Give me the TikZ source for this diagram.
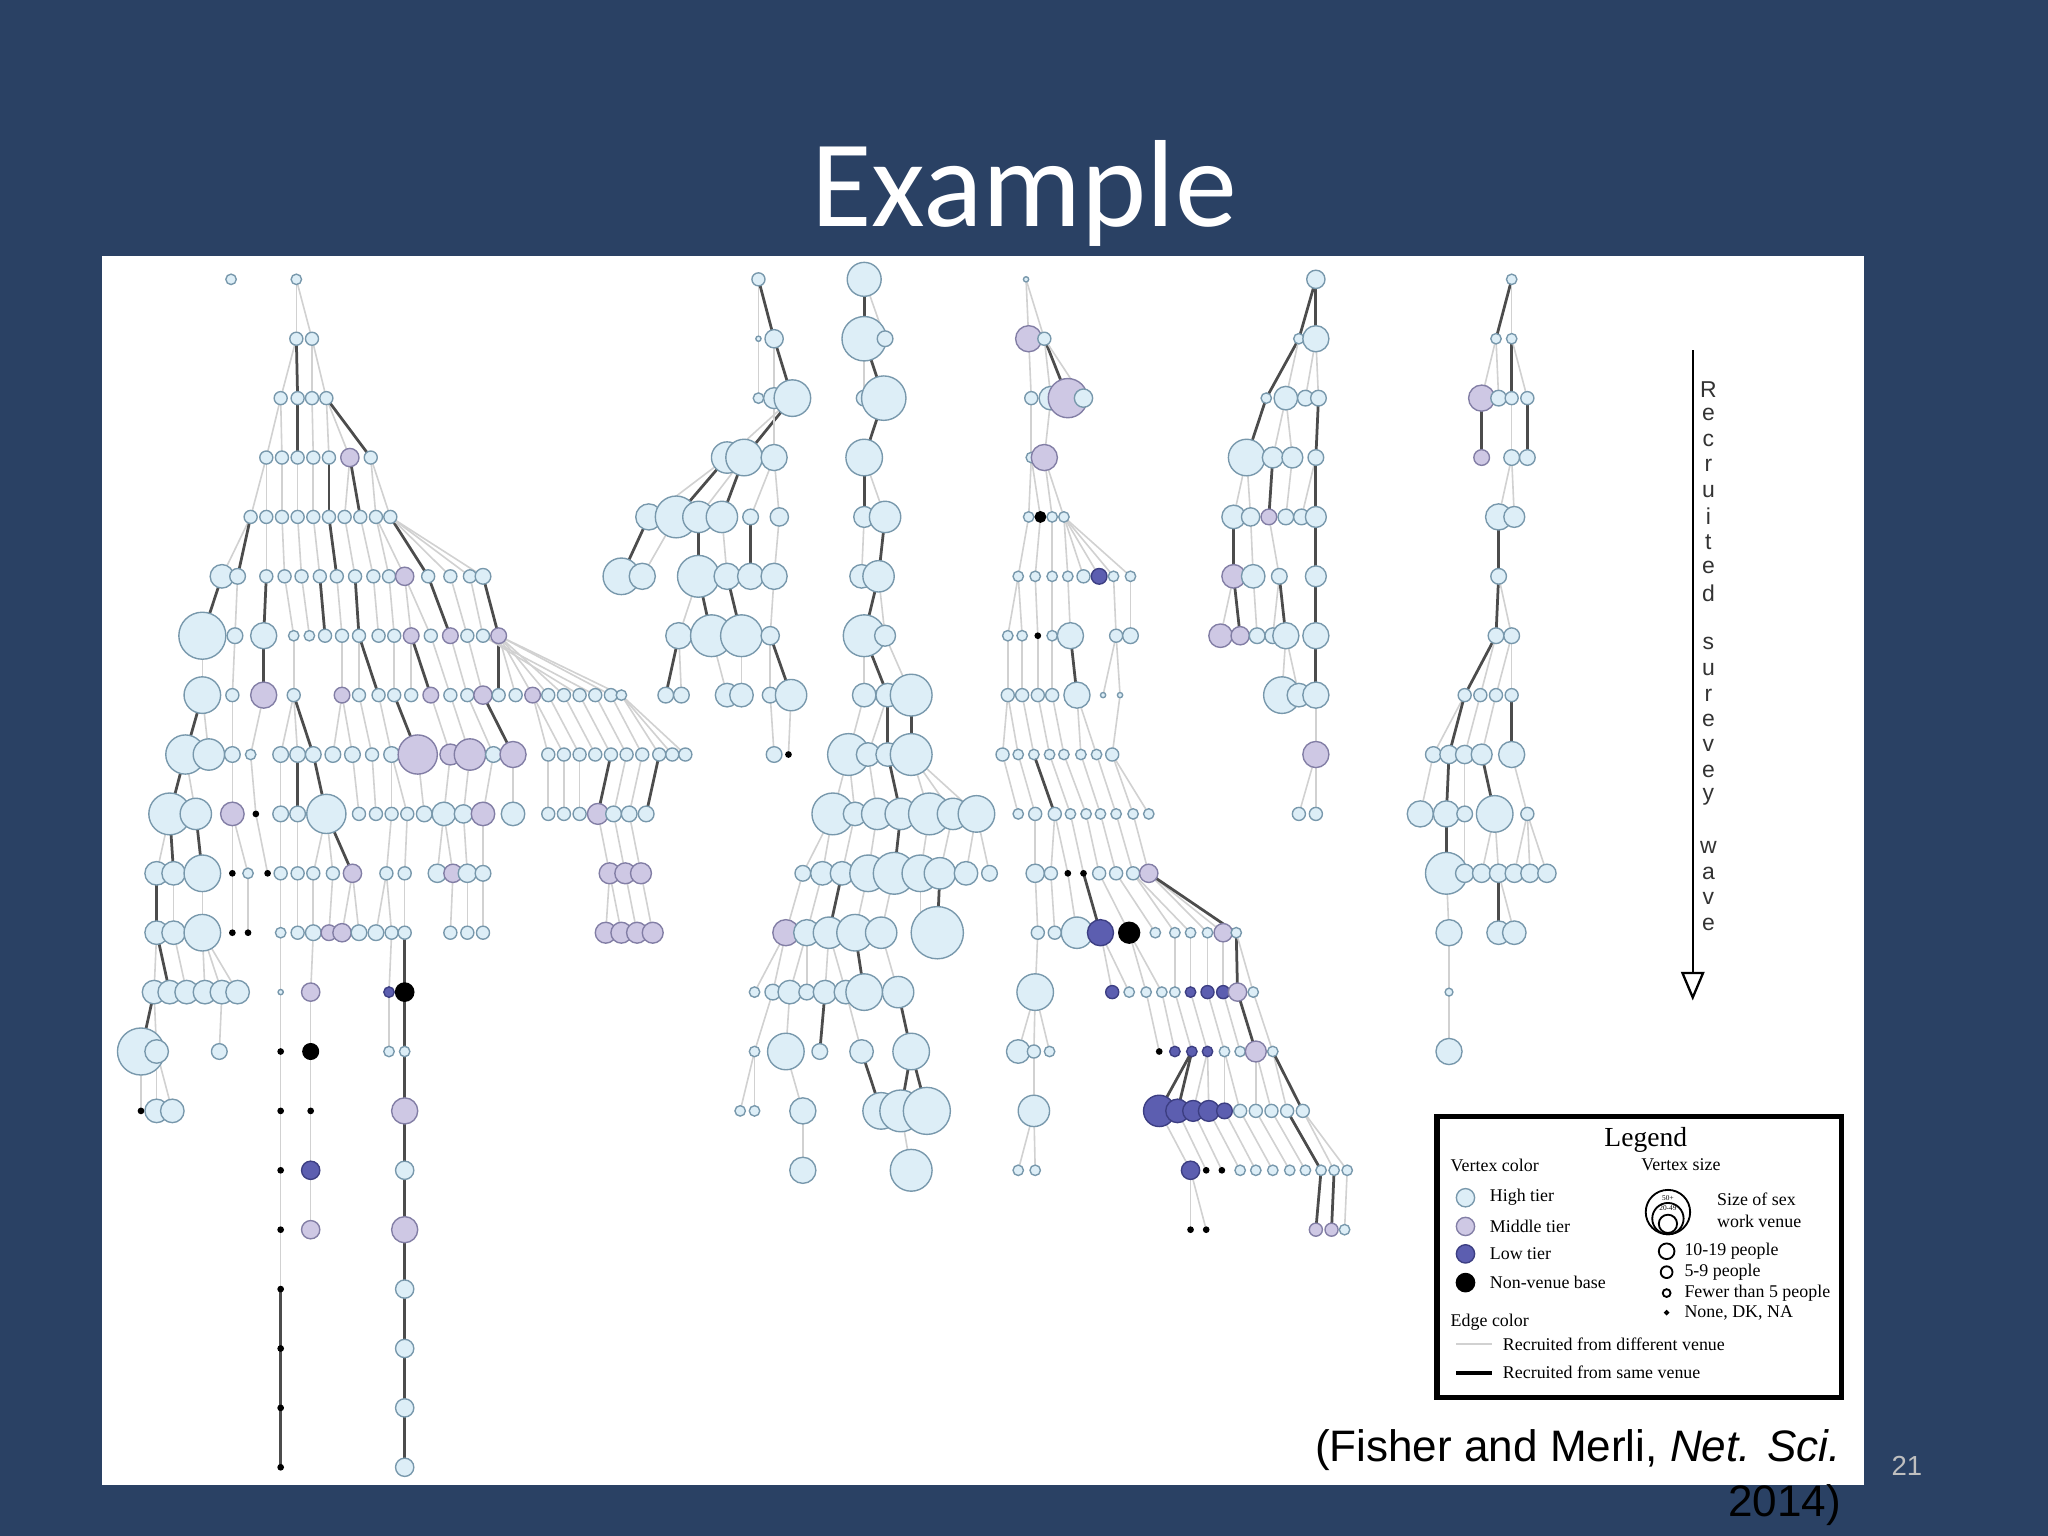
\documentclass[tikz,border=0pt]{standalone}
\usepackage{fontspec}
\setmainfont{Liberation Serif}
\newfontfamily\titlefont{Carlito}
\newfontfamily\arialf{Liberation Sans}
\usetikzlibrary{arrows.meta}
\definecolor{slide}{RGB}{42,65,100}
\definecolor{hi}{RGB}{221,238,247}
\definecolor{hid}{RGB}{120,152,172}
\definecolor{mi}{RGB}{206,200,228}
\definecolor{mid}{RGB}{130,126,165}
\definecolor{lo}{RGB}{92,94,176}
\definecolor{lod}{RGB}{60,62,130}
\tikzset{
 vx/.style={circle,inner sep=0pt,line width=0.3pt},
 vh/.style={vx,fill=hi,draw=hid},
 vm/.style={vx,fill=mi,draw=mid},
 vl/.style={vx,fill=lo,draw=lod},
 vk/.style={vx,fill=black,draw=black},
 e1/.style={draw=black!18,line width=0.35pt},
 e2/.style={draw=black!70,line width=0.6pt},
 leg/.style={font=\fontsize{3.9}{4.5}\selectfont,anchor=west,inner sep=0pt}
}
\def\wpass{1}
\newcommand\wave[4]{\pgfmathsetmacro\yy{-(214+45.5*#2)*0.01}%
\foreach \x/\r/\c/\p/\e in {#4}{%
 \ifnum\wpass=1
  \coordinate (#1#2-\x) at (\x*0.01,\yy);
  \ifnum\e>0 \draw[e\e] (#1#3-\p) -- (#1#2-\x);\fi
 \else
  \node[v\c,minimum size=\r*0.02cm] (#1#2-\x) at (\x*0.01,\yy) {};
 \fi}}
\newcommand\allwaves{%
% ---- component A
\wave{A}{0}{0}{177/4/h/0/0, 227/4/h/0/0}
\wave{A}{1}{0}{227/5/h/227/1, 239/5/h/227/1}
\wave{A}{2}{1}{215/5/h/227/1, 228/5/h/227/2, 239/5/h/239/1, 250/5/h/239/1}
\wave{A}{3}{2}{204/5/h/215/1, 216/5/h/215/1, 228/5/h/228/2, 240/5/h/239/1, 252/5/h/250/1, 268/7/m/250/1, 284/5/h/250/2}
\wave{A}{4}{3}{192/5/h/204/1, 204/5/h/204/1, 216/5/h/216/1, 228/5/h/228/1, 240/5/h/240/1, 252/5/h/252/2, 264/5/h/268/1, 276/5/h/268/2, 288/5/h/284/1, 299/5/h/284/1}
\wave{A}{5}{4}{170/9/h/192/1, 182/6/h/192/2, 204/5/h/204/1, 218/5/h/216/1, 231/5/h/228/1, 245/5/h/240/1, 258/5/h/252/2, 272/5/h/264/1, 286/5/h/276/1, 298/5/h/288/1, 310/7/m/288/1, 328/5/h/299/2, 345/5/h/299/1, 360/5/h/299/1, 370/6/h/299/1}
\wave{A}{6}{5}{155/18/h/170/2, 180/6/h/182/1, 202/10/h/204/2, 225/4/h/218/1, 237/4/h/231/1, 249/5/h/245/2, 262/5/h/258/1, 275/5/h/272/2, 290/5/h/286/1, 302/5/h/298/1, 315/6/m/310/1, 330/5/h/310/1, 345/6/m/328/2, 358/5/h/345/1, 370/5/h/360/1, 382/6/m/370/2}
\wave{A}{7}{6}{155/14/h/155/1, 178/5/h/180/1, 202/10/m/202/2, 225/5/h/225/1, 262/6/m/262/1, 275/5/h/275/1, 290/5/h/275/2, 302/5/h/302/1, 315/5/h/315/1, 330/6/m/315/2, 345/5/h/330/1, 358/5/h/345/1, 370/7/m/358/1, 382/5/h/382/2, 395/5/h/382/1, 408/6/m/382/1, 420/5/h/382/1, 432/5/h/382/1, 444/5/h/370/1, 456/5/h/370/1, 468/5/h/382/1, 476/4/h/382/1}
\wave{A}{8}{7}{142/15/h/155/2, 160/12/h/155/1, 178/6/h/178/1, 192/4/h/202/1, 215/6/h/225/1, 228/6/h/225/1, 240/6/h/225/2, 255/6/h/262/1, 270/6/h/262/1, 285/5/h/275/1, 300/6/h/290/1, 320/15/m/302/2, 345/8/m/330/1, 360/12/m/345/1, 378/6/h/358/1, 393/10/m/370/2, 420/5/h/408/1, 432/5/h/408/1, 444/5/h/420/1, 456/5/h/432/1, 468/5/h/444/1, 480/5/h/456/1, 492/5/h/468/1, 505/5/h/476/1, 515/5/h/476/1, 525/5/h/476/1}
\wave{A}{9}{8}{130/16/h/142/2, 150/12/h/142/1, 178/9/m/178/1, 196/2/k/192/1, 215/6/h/215/1, 228/6/h/228/2, 250/15/h/240/2, 275/5/h/270/1, 288/5/h/285/1, 300/5/h/300/1, 312/5/h/300/1, 325/6/h/320/1, 340/9/h/345/1, 355/7/h/360/1, 370/9/m/378/1, 393/9/h/393/1, 420/5/h/420/1, 432/5/h/432/1, 444/5/h/444/1, 458/8/m/468/2, 470/6/h/480/1, 482/6/h/492/1, 495/6/h/505/2}
\wave{A}{10}{9}{120/9/h/130/1, 133/9/h/130/2, 155/14/h/150/2, 178/2/k/178/1, 190/4/h/178/1, 205/2/k/196/1, 215/5/h/215/1, 228/5/h/228/1, 240/5/h/250/1, 255/5/h/250/1, 270/7/m/250/2, 296/5/h/300/1, 310/5/h/312/1, 335/7/h/340/1, 347/7/m/340/1, 358/7/h/355/1, 370/6/h/370/1, 467/8/m/458/1, 479/8/m/470/1, 491/8/m/482/1}
\wave{A}{11}{10}{120/9/h/120/2, 133/9/h/133/1, 155/14/h/155/1, 178/2/k/178/1, 190/2/k/190/1, 215/4/h/215/1, 228/5/h/228/1, 240/6/h/240/1, 252/6/m/255/1, 262/7/m/270/1, 275/6/h/270/1, 288/6/h/296/1, 300/5/h/296/1, 310/5/h/310/1, 345/5/h/347/1, 358/5/h/358/1, 370/5/h/370/1, 464/8/m/467/1, 476/8/m/467/1, 488/8/m/479/1, 500/8/m/491/1}
\wave{A}{12}{11}{118/9/h/120/1, 130/9/h/120/2, 143/9/h/133/1, 157/9/h/155/1, 170/9/h/155/1, 182/9/h/155/1, 215/2/h/215/1, 238/7/m/240/1, 298/4/l/300/1, 310/7/k/310/2}
\wave{A}{13}{12}{108/18/h/118/2, 120/9/h/118/1, 168/6/h/170/1, 215/2/k/215/1, 238/6/k/238/1, 298/4/h/298/1, 310/4/h/310/2}
\wave{A}{14}{13}{108/2/k/108/1, 120/9/h/120/1, 132/9/h/120/1, 215/2/k/215/1, 238/2/k/238/1, 310/10/m/310/2}
\wave{A}{15}{14}{215/2/k/215/1, 238/7/l/238/1, 310/7/h/310/2}
\wave{A}{16}{15}{215/2/k/215/1, 238/7/m/238/1, 310/10/m/310/2}
\wave{A}{17}{16}{215/2/k/215/1, 310/7/h/310/2}
\wave{A}{18}{17}{215/2/k/215/2, 310/7/h/310/2}
\wave{A}{19}{18}{215/2/k/215/2, 310/7/h/310/2}
\wave{A}{20}{19}{215/2/k/215/2, 310/7/h/310/2}
% ---- component B
\wave{B}{0}{0}{581/5/h/0/0}
\wave{B}{1}{0}{581/2/h/581/1, 593/7/h/581/2}
\wave{B}{2}{1}{581/4/h/581/1, 593/8/h/593/1, 607/14/h/593/2}
\wave{B}{3}{2}{557/12/h/607/1, 570/14/h/607/2, 593/10/h/593/1}
\wave{B}{4}{3}{497/10/h/557/1, 518/16/h/557/2, 535/12/h/570/1, 553/12/h/570/2, 575/6/h/593/1, 597/7/h/593/1}
\wave{B}{5}{4}{476/14/h/497/2, 492/10/h/518/1, 535/16/h/535/2, 557/10/h/553/1, 575/10/h/575/2, 593/10/h/597/1}
\wave{B}{6}{5}{520/10/h/535/1, 545/16/h/535/2, 568/16/h/557/2, 590/7/h/593/1}
\wave{B}{7}{6}{510/6/h/520/2, 522/6/h/520/1, 557/9/h/545/1, 568/9/h/568/1, 590/6/h/590/1, 606/12/h/590/2}
\wave{B}{8}{7}{593/6/h/590/1, 604/2/k/606/1}
% ---- component C
\wave{C}{0}{0}{662/13/h/0/0}
\wave{C}{1}{0}{662/17/h/662/2, 678/6/h/662/1}
\wave{C}{2}{1}{662/6/h/662/1, 677/17/h/662/2}
\wave{C}{3}{2}{662/14/h/677/2}
\wave{C}{4}{3}{662/8/h/662/2, 678/12/h/662/1}
\wave{C}{5}{4}{660/9/h/662/1, 673/12/h/678/2}
\wave{C}{6}{5}{662/16/h/673/2, 678/8/h/673/1}
\wave{C}{7}{6}{662/9/h/662/1, 680/9/h/662/2, 698/16/h/678/1}
\wave{C}{8}{7}{650/16/h/662/1, 665/9/h/680/1, 680/9/h/680/2, 698/16/h/698/2}
\wave{C}{9}{8}{638/16/h/650/1, 655/9/h/650/1, 672/12/h/665/1, 690/12/h/680/2, 712/16/h/698/1, 730/12/h/698/1, 748/14/h/698/1}
\wave{C}{10}{9}{615/6/h/638/1, 630/9/h/638/1, 645/9/h/655/1, 665/14/h/672/1, 685/16/h/690/2, 705/14/h/712/1, 720/12/h/730/1, 740/9/h/748/1, 758/6/h/748/1}
\wave{C}{11}{10}{602/10/m/615/1, 618/10/h/630/1, 635/12/h/645/2, 655/14/h/665/1, 675/12/h/685/1, 705/6/h/705/1, 718/20/h/720/2}
\wave{C}{12}{11}{578/4/h/602/1, 592/6/h/602/1, 605/9/h/618/1, 618/6/h/618/1, 632/9/h/635/1, 648/9/h/635/1, 662/14/h/655/2, 688/12/h/675/1}
\wave{C}{13}{12}{578/4/h/592/1, 602/14/h/605/1, 628/6/h/632/2, 660/9/h/648/1, 698/14/h/688/2}
\wave{C}{14}{13}{567/4/h/578/1, 578/4/h/578/1, 615/10/h/602/1, 675/14/h/660/2, 690/16/h/698/2, 710/18/h/698/2}
\wave{C}{15}{14}{615/10/h/615/1, 698/16/h/690/1}
% ---- component D
\wave{D}{0}{0}{786/2/h/0/0}
\wave{D}{1}{0}{788/10/m/786/1, 800/5/h/786/1}
\wave{D}{2}{1}{790/5/h/788/1, 805/9/h/800/1, 818/15/m/800/2, 830/7/h/800/1}
\wave{D}{3}{2}{790/4/h/790/1, 800/10/m/805/1}
\wave{D}{4}{3}{788/4/h/790/1, 797/4/k/790/1, 806/4/h/800/1, 815/4/h/800/1}
\wave{D}{5}{4}{780/4/h/788/1, 793/4/h/797/1, 806/4/h/806/1, 818/4/h/815/1, 830/5/h/815/1, 842/6/l/815/1, 853/4/h/815/1, 866/4/h/815/1}
\wave{D}{6}{5}{772/4/h/780/1, 783/4/h/780/1, 795/2/k/793/1, 806/4/h/806/1, 820/10/h/818/1, 855/5/h/853/1, 866/6/h/866/1}
\wave{D}{7}{6}{772/5/h/772/1, 783/5/h/783/1, 795/5/h/795/1, 806/5/h/806/1, 825/10/h/820/2, 845/2/h/855/1, 858/2/h/855/1}
\wave{D}{8}{7}{768/5/h/772/1, 780/4/h/772/1, 792/4/h/783/1, 804/4/h/795/1, 815/4/h/806/1, 828/4/h/825/1, 840/4/h/825/1, 852/5/h/858/1}
\wave{D}{9}{8}{780/4/h/768/1, 793/5/h/780/1, 808/5/h/792/2, 820/4/h/804/1, 832/4/h/815/1, 843/4/h/828/1, 855/4/h/840/1, 868/4/h/852/1, 880/4/h/852/1}
\wave{D}{10}{9}{793/7/h/793/1, 805/5/h/808/1, 818/2/k/808/1, 830/2/k/820/1, 842/5/h/832/1, 855/5/h/843/1, 868/5/h/855/1, 880/7/m/868/1}
\wave{D}{11}{10}{795/5/h/793/1, 808/5/h/805/1, 825/12/h/818/1, 843/10/l/830/2, 865/8/k/842/1, 885/4/h/855/1, 900/4/h/868/1, 912/4/h/868/1, 925/4/h/880/1, 937/7/m/880/1, 947/4/h/880/2}
\wave{D}{12}{11}{793/14/h/795/1, 852/5/l/843/1, 865/4/h/843/1, 878/4/h/865/1, 890/4/h/865/1, 900/4/h/900/1, 912/4/l/912/1, 925/5/l/925/1, 937/5/l/937/1, 948/7/m/947/2, 960/4/h/947/1}
\wave{D}{13}{12}{780/9/h/793/1, 792/5/h/793/1, 804/4/h/793/1, 888/2/k/878/1, 900/4/l/890/1, 913/4/l/900/1, 925/4/l/912/1, 938/4/h/925/1, 950/4/h/937/1, 962/8/m/948/2, 975/4/h/960/1}
\wave{D}{14}{13}{792/12/h/792/1, 888/12/l/913/2, 902/9/l/913/2, 914/8/l/925/1, 926/8/l/925/1, 938/6/l/938/1, 950/5/h/938/1, 962/5/h/962/1, 974/5/h/962/1, 986/5/h/975/1, 998/5/h/975/2}
\wave{D}{15}{14}{780/4/h/792/1, 793/4/h/792/1, 912/7/l/888/1, 924/2/k/902/1, 936/2/k/914/1, 950/4/h/926/1, 962/4/h/938/1, 975/4/h/950/1, 988/4/h/962/1, 1000/4/h/974/1, 1012/4/h/986/2, 1022/4/h/998/1, 1032/4/h/998/1}
\wave{D}{16}{15}{912/2/k/912/1, 924/2/k/912/1, 1008/5/m/1012/2, 1020/5/m/1022/2, 1030/4/h/1032/1}
% ---- component E
\wave{E}{0}{0}{1008/7/h/0/0}
\wave{E}{1}{0}{995/4/h/1008/2, 1008/10/h/1008/2}
\wave{E}{2}{1}{970/4/h/995/2, 985/9/h/995/1, 1000/6/h/1008/1, 1010/6/h/1008/1}
\wave{E}{3}{2}{955/14/h/970/2, 975/8/h/985/1, 990/8/h/985/1, 1008/6/h/1010/2}
\wave{E}{4}{3}{945/9/h/955/1, 958/7/h/955/1, 972/6/m/975/2, 985/6/h/990/1, 997/6/h/1008/1, 1008/8/h/1008/2}
\wave{E}{5}{4}{945/9/m/945/2, 960/9/h/958/1, 980/6/h/972/1, 1008/8/h/1008/2}
\wave{E}{6}{5}{935/9/m/945/1, 950/7/m/945/2, 963/6/h/960/1, 975/6/h/980/1, 985/10/h/980/2, 1008/10/h/1008/2}
\wave{E}{7}{6}{982/14/h/985/1, 995/9/h/985/1, 1008/10/h/1008/2}
\wave{E}{8}{7}{1008/10/m/1008/1}
\wave{E}{9}{8}{995/5/h/1008/1, 1008/5/h/1008/1}
% ---- component F
\wave{F}{0}{0}{1158/4/h/0/0}
\wave{F}{1}{0}{1146/4/h/1158/2, 1158/4/h/1158/1}
\wave{F}{2}{1}{1135/10/m/1146/1, 1148/6/h/1146/1, 1158/5/h/1158/2, 1170/5/h/1158/1}
\wave{F}{3}{2}{1135/6/m/1135/2, 1158/6/h/1158/1, 1170/6/h/1170/2}
\wave{F}{4}{3}{1148/10/h/1158/1, 1160/8/h/1158/1}
\wave{F}{5}{4}{1148/6/h/1148/2}
\wave{F}{6}{5}{1146/6/h/1148/2, 1158/6/h/1148/1}
\wave{F}{7}{6}{1122/5/h/1146/2, 1134/5/h/1146/1, 1146/5/h/1158/1, 1158/5/h/1158/1}
\wave{F}{8}{7}{1098/6/h/1122/1, 1110/7/h/1122/2, 1122/7/h/1134/1, 1135/8/h/1146/1, 1158/10/h/1158/2}
\wave{F}{9}{8}{1088/10/h/1098/1, 1108/10/h/1110/2, 1122/6/h/1122/1, 1145/14/h/1135/2, 1170/5/h/1158/1}
\wave{F}{10}{9}{1108/16/h/1108/2, 1122/7/h/1122/1, 1135/7/h/1145/1, 1148/7/h/1145/1, 1160/7/h/1170/1, 1172/7/h/1170/1, 1185/7/h/1170/1}
\wave{F}{11}{10}{1110/10/h/1108/1, 1148/9/h/1148/2, 1160/9/h/1148/1}
\wave{F}{12}{11}{1110/3/h/1110/1}
\wave{F}{13}{12}{1110/10/h/1110/1}
}
\begin{document}
\begin{tikzpicture}
\fill[slide] (0,0) rectangle (15.68,-11.76);
\fill[white] (0.78,-1.96) rectangle (14.27,-11.37);
\node[text=white,font=\titlefont\fontsize{27}{30}\selectfont] (title) at (7.84,-1.48) {Example};
\def\wpass{1}\allwaves
\def\wpass{2}\allwaves
% ---- wave arrow
\coordinate (ar1) at (12.96,-2.68);
\coordinate (ar2) at (12.96,-7.66);
\draw[line width=0.5pt,-{Triangle[open,length=2.2mm,width=1.8mm]}] (ar1) -- (ar2);
\foreach \ch [count=\i from 0] in {R,e,c,r,u,i,t,e,d,{},s,u,r,e,v,e,y,{},w,a,v,e}
  \node[font=\arialf\fontsize{5}{6}\selectfont,inner sep=0pt,text=black!80] (wl\i) at (13.08,{-2.98-0.195*\i}) {\ch};
% ---- legend
\draw[line width=1.2pt] (11.00,-8.55) rectangle (14.10,-10.70);
\node[font=\fontsize{6}{7}\selectfont,inner sep=0pt] (lgt) at (12.60,-8.73) {Legend};
\node[leg] (lvc) at (11.10,-8.92) {Vertex color};
\node[leg] (lvs) at (12.56,-8.92) {Vertex size};
\node[vh,minimum size=0.14cm] (c1) at (11.22,-9.17) {};
\node[vm,minimum size=0.14cm] (c2) at (11.22,-9.39) {};
\node[vl,minimum size=0.14cm] (c3) at (11.22,-9.60) {};
\node[vk,minimum size=0.14cm] (c4) at (11.22,-9.82) {};
\node[leg] (t1) at (11.40,-9.17) {High tier};
\node[leg] (t2) at (11.40,-9.39) {Middle tier};
\node[leg] (t3) at (11.40,-9.60) {Low tier};
\node[leg] (t4) at (11.40,-9.82) {Non-venue base};
\node[circle,draw,inner sep=0pt,minimum size=0.34cm] (ic) at (12.77,-9.28) {};
\node[circle,draw,inner sep=0pt,minimum size=0.24cm] (ic2) at (12.77,-9.33) {};
\node[circle,draw,inner sep=0pt,minimum size=0.14cm] (ic3) at (12.77,-9.37) {};
\node[font=\fontsize{1.6}{2}\selectfont,inner sep=0pt] (ict) at (12.77,-9.17) {50+};
\node[font=\fontsize{1.6}{2}\selectfont,inner sep=0pt] (ict2) at (12.77,-9.25) {20-49};
\node[leg] (sz1) at (13.14,-9.18) {Size of sex};
\node[leg] (sz2) at (13.14,-9.35) {work venue};
\node[circle,draw,inner sep=0pt,minimum size=0.12cm] (s1) at (12.76,-9.58) {};
\node[circle,draw,inner sep=0pt,minimum size=0.09cm] (s2) at (12.76,-9.74) {};
\node[circle,draw,inner sep=0pt,minimum size=0.06cm] (s3) at (12.76,-9.90) {};
\node[circle,draw,inner sep=0pt,minimum size=0.025cm] (s4) at (12.76,-10.05) {};
\node[leg] (st1) at (12.89,-9.58) {10-19 people};
\node[leg] (st2) at (12.89,-9.74) {5-9 people};
\node[leg] (st3) at (12.89,-9.90) {Fewer than 5 people};
\node[leg] (st4) at (12.89,-10.05) {None, DK, NA};
\node[leg] (lec) at (11.10,-10.12) {Edge color};
\coordinate (la1) at (11.15,-10.29); \coordinate (la2) at (11.42,-10.29);
\coordinate (lb1) at (11.15,-10.51); \coordinate (lb2) at (11.42,-10.51);
\draw[e1] (la1) -- (la2);
\draw[line width=0.8pt] (lb1) -- (lb2);
\node[leg] (et1) at (11.50,-10.29) {Recruited from different venue};
\node[leg] (et2) at (11.50,-10.51) {Recruited from same venue};
% ---- citation
\node[font=\arialf\fontsize{9.6}{11}\selectfont,anchor=east,inner sep=0pt] (cit1) at (14.10,-11.10) {(Fisher and Merli, \textit{Net. Sci.}};
\node[font=\arialf\fontsize{9.6}{11}\selectfont,anchor=east,inner sep=0pt] (cit2) at (14.10,-11.52) {2014)};
\node[font=\arialf\fontsize{6}{7}\selectfont,text=black!25,inner sep=0pt] (pg) at (14.60,-11.22) {21};
\end{tikzpicture}
\end{document}
